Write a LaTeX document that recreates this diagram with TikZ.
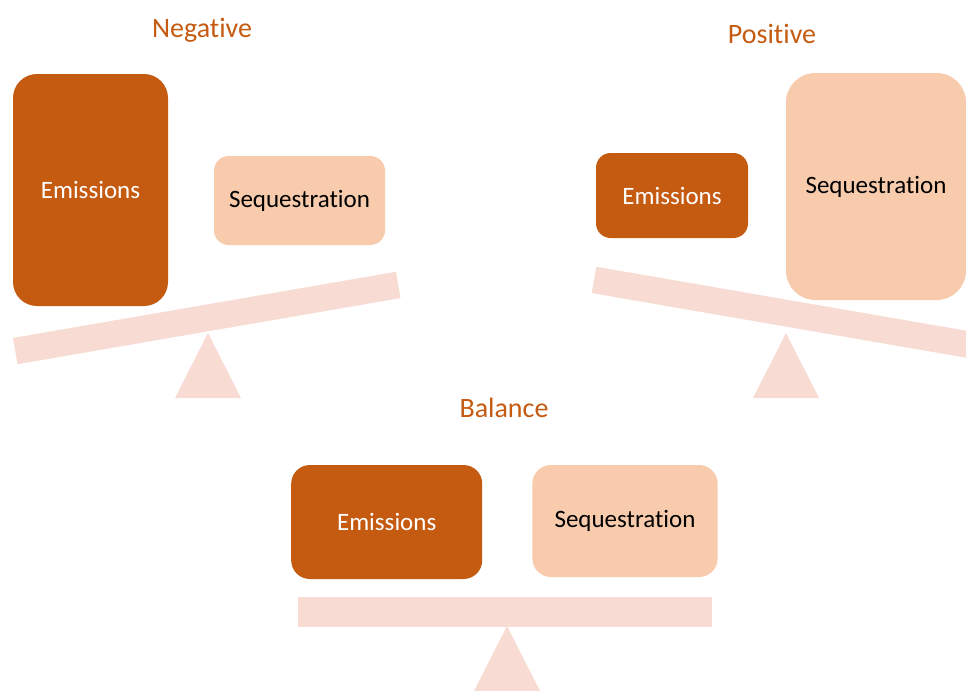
\documentclass[tikz,border=0pt]{standalone}
\usepackage{fontspec}
\setmainfont{Carlito}[Ligatures={NoCommon}]
\definecolor{darkor}{HTML}{C55A11}
\definecolor{lightor}{HTML}{F8CBAD}
\definecolor{beamc}{HTML}{F8DBD3}
\begin{document}
\begin{tikzpicture}[x=0.75pt,y=-0.75pt,
  title/.style={text=darkor,font=\fontsize{21}{25}\selectfont,anchor=base,inner sep=0},
  emis/.style={fill=darkor,text=white,font=\fontsize{18.75}{22}\selectfont,inner sep=0},
  sequ/.style={fill=lightor,text=black,font=\fontsize{18.75}{22}\selectfont,inner sep=0},
  beam/.style={fill=beamc,inner sep=0,minimum width=291.5pt,minimum height=20pt},
  fulcrum/.style={fill=beamc}]
\useasboundingbox (0,0) rectangle (966,690);
\clip (0,0) rectangle (966,690);
% Negative
\node[title] (tneg) at (202,37) {Negative};
\fill[fulcrum] (208,333) -- (241,398) -- (175,398) -- cycle;
\node[beam,rotate=9.8] (bneg) at (206.75,318) {};
\node[emis,rounded corners=18pt,minimum width=116.25pt,minimum height=174pt] (eneg) at (90.5,190) {Emissions};
\node[sequ,rounded corners=11pt,minimum width=128.25pt,minimum height=66.75pt] (sneg) at (299.5,200.5) {Sequestration};
% Positive
\node[title] (tpos) at (772,43) {Positive};
\fill[fulcrum] (786,333) -- (819,398) -- (753,398) -- cycle;
\node[beam,rotate=-9.8] (bpos) at (785.5,313) {};
\node[emis,rounded corners=11pt,minimum width=114pt,minimum height=63.75pt] (epos) at (672,195.5) {Emissions};
\node[sequ,rounded corners=22pt,minimum width=135pt,minimum height=170.25pt] (spos) at (876,186.5) {Sequestration};
% Balance
\node[title] (tbal) at (504,417) {Balance};
\fill[fulcrum] (507,626) -- (540,691) -- (474,691) -- cycle;
\node[fill=beamc,inner sep=0,minimum width=310.5pt,minimum height=22pt] (bbal) at (505.3,612) {};
\node[emis,rounded corners=14pt,minimum width=143.25pt,minimum height=85.5pt] (ebal) at (386.7,522) {Emissions};
\node[sequ,rounded corners=14pt,minimum width=139pt,minimum height=84pt] (sbal) at (625,521) {Sequestration};
\end{tikzpicture}
\end{document}
